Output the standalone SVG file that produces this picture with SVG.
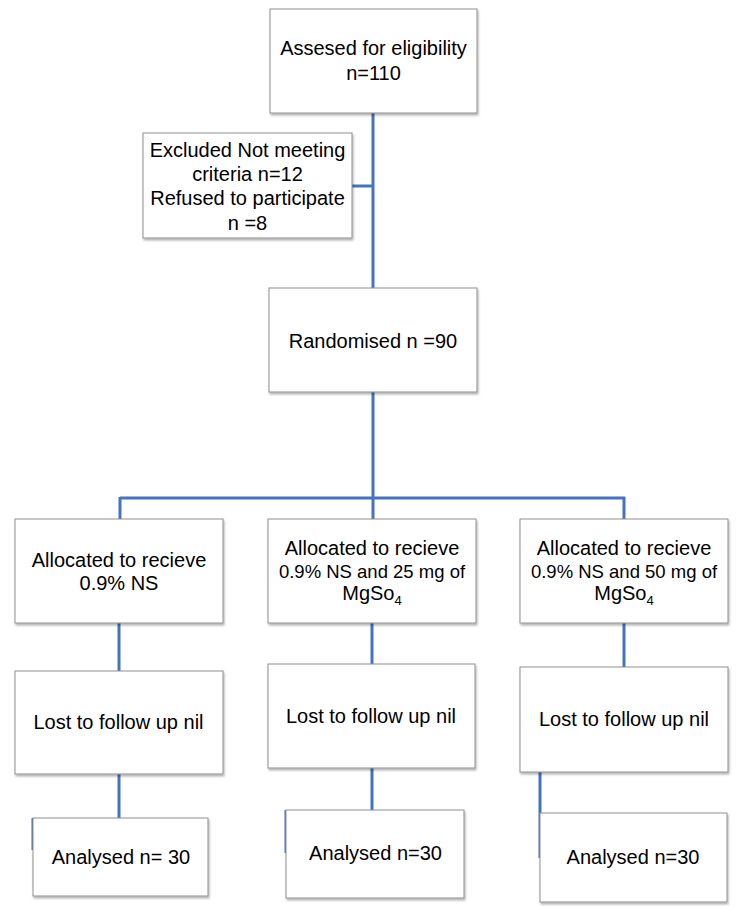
<svg xmlns="http://www.w3.org/2000/svg" width="736" height="908" viewBox="0 0 736 908">
<defs>
<filter id="sh" x="-10%" y="-10%" width="125%" height="130%">
<feDropShadow dx="1" dy="2" stdDeviation="1.2" flood-color="#000" flood-opacity="0.3"/>
</filter>
</defs>
<style>
.box{fill:#fff;stroke:#8f8f8f;stroke-width:1;filter:url(#sh)}
.t{font-family:"Liberation Sans",Arial,sans-serif;font-size:20px;fill:#000;text-anchor:middle}
.s{font-size:18.5px}
.c{stroke:#4472c4;stroke-width:3;fill:none}
</style>
<rect width="736" height="908" fill="#fff"/>
<g id="connectors">
<path class="c" d="M373 113V519M352 186H373M120 498H625M120 497V519M624 497V519"/>
<path class="c" d="M119 623V671M372 623V664M624 623V667"/>
<path class="c" d="M119 774V818M372 768V810M540 772V858M33 818V850M286 810V853"/>
</g>
<g id="assessed">
<rect class="box" x="270" y="9" width="207" height="104"/>
<text class="t" x="373.5" y="55">Assesed for eligibility</text>
<text class="t" x="373.5" y="80">n=110</text>
</g>
<g id="excluded">
<rect class="box" x="143" y="133" width="209" height="105"/>
<text class="t" x="247.5" y="157">Excluded Not meeting</text>
<text class="t" x="247.5" y="181">criteria n=12</text>
<text class="t" x="247.5" y="205">Refused to participate</text>
<text class="t" x="247.5" y="230">n =8</text>
</g>
<g id="randomised">
<rect class="box" x="269" y="288" width="208" height="104"/>
<text class="t" x="373" y="348">Randomised n =90</text>
</g>
<g id="alloc1">
<rect class="box" x="15" y="519" width="208" height="104"/>
<text class="t" x="119" y="567">Allocated to recieve</text>
<text class="t" x="119" y="590">0.9% NS</text>
</g>
<g id="alloc2">
<rect class="box" x="268" y="519" width="208" height="104"/>
<text class="t" x="372" y="555">Allocated to recieve</text>
<text class="t s" x="372" y="578">0.9% NS and 25 mg of</text>
<text class="t" x="372" y="600">MgSo<tspan font-size="13" dy="5">4</tspan></text>
</g>
<g id="alloc3">
<rect class="box" x="520" y="519" width="208" height="104"/>
<text class="t" x="624" y="555">Allocated to recieve</text>
<text class="t s" x="624" y="578">0.9% NS and 50 mg of</text>
<text class="t" x="624" y="600">MgSo<tspan font-size="13" dy="5">4</tspan></text>
</g>
<g id="lost1">
<rect class="box" x="15" y="671" width="208" height="103"/>
<text class="t" x="118.5" y="729">Lost to follow up nil</text>
</g>
<g id="lost2">
<rect class="box" x="268" y="664" width="207" height="104"/>
<text class="t" x="371" y="723">Lost to follow up nil</text>
</g>
<g id="lost3">
<rect class="box" x="520" y="667" width="208" height="105"/>
<text class="t" x="624" y="726">Lost to follow up nil</text>
</g>
<g id="analysed1">
<rect class="box" x="33" y="818" width="175" height="78"/>
<text class="t" x="121" y="864">Analysed n= 30</text>
</g>
<g id="analysed2">
<rect class="box" x="286" y="810" width="178" height="88"/>
<text class="t" x="375.5" y="860">Analysed n=30</text>
</g>
<g id="analysed3">
<rect class="box" x="540" y="813" width="187" height="89"/>
<text class="t" x="633" y="864">Analysed n=30</text>
</g>
</svg>
